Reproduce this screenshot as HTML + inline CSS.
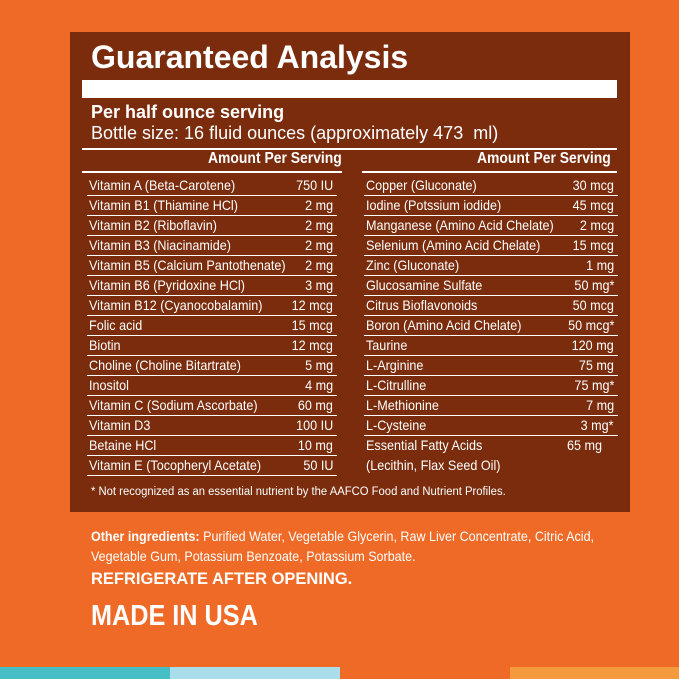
<!DOCTYPE html><html><head><style>
body{margin:0;width:679px;height:679px;background:#ee6a26;position:relative;overflow:hidden;font-family:"Liberation Sans",sans-serif;color:#fff}
.box{position:absolute;left:70px;top:32px;width:560px;height:480px;background:#7a2c0c}
.a{position:absolute;white-space:nowrap}
.row{position:absolute;height:20px;border-bottom:1.5px solid #fff;font-size:14px;line-height:20px}
.row span{position:absolute;right:4px;top:0;transform:scaleX(0.9);transform-origin:right}
.row b{font-weight:normal;position:absolute;left:2px;top:0;transform:scaleX(0.9);transform-origin:left}
.st{position:absolute;bottom:0;height:12px;width:170px}
</style></head><body>
<div class="box"></div>
<div class="a" style="left:91px;top:39px;font-size:32px;font-weight:bold">Guaranteed Analysis</div>
<div class="a" style="left:82px;top:80px;width:535px;height:18px;background:#fff"></div>
<div class="a" style="left:91px;top:102px;font-size:18px;font-weight:bold">Per half ounce serving</div>
<div class="a" style="left:91px;top:123px;font-size:18px">Bottle size: 16 fluid ounces (approximately 473&nbsp; ml)</div>
<div class="a" style="left:82px;top:148px;width:535px;height:1.5px;background:#fff"></div>
<div class="a" style="left:82px;top:171px;width:260px;height:1.5px;background:#fff"></div>
<div class="a" style="left:362px;top:171px;width:255px;height:1.5px;background:#fff"></div>
<div class="a" style="left:208px;top:150px;font-size:16px;font-weight:bold;transform:scaleX(0.87);transform-origin:left">Amount Per Serving</div>
<div class="a" style="left:477px;top:150px;font-size:16px;font-weight:bold;transform:scaleX(0.87);transform-origin:left">Amount Per Serving</div>
<div id="L"></div>
<div class="a" style="left:91px;top:486px;font-size:11.5px;transform:scaleX(0.98);transform-origin:left">* Not recognized as an essential nutrient by the AAFCO Food and Nutrient Profiles.</div>
<div class="a" style="left:91px;top:526px;font-size:14px;line-height:20px;transform:scaleX(0.895);transform-origin:left"><b>Other ingredients:</b> Purified Water, Vegetable Glycerin, Raw Liver Concentrate, Citric Acid,<br>Vegetable Gum, Potassium Benzoate, Potassium Sorbate.</div>
<div class="a" style="left:91px;top:570px;font-size:16.5px;font-weight:bold">REFRIGERATE AFTER OPENING.</div>
<div class="a" style="left:91px;top:600px;font-size:29px;font-weight:bold;transform:scaleX(0.87);transform-origin:left">MADE IN USA</div>
<div class="st" style="left:0;background:#45bec5"></div>
<div class="st" style="left:170px;background:#a8dde9"></div>
<div class="st" style="left:510px;background:#f49a3c"></div>
<script>
var l=[["Vitamin A (Beta-Carotene)","750 IU"],["Vitamin B1 (Thiamine HCl)","2 mg"],["Vitamin B2 (Riboflavin)","2 mg"],["Vitamin B3 (Niacinamide)","2 mg"],["Vitamin B5 (Calcium Pantothenate)","2 mg"],["Vitamin B6 (Pyridoxine HCl)","3 mg"],["Vitamin B12 (Cyanocobalamin)","12 mcg"],["Folic acid","15 mcg"],["Biotin","12 mcg"],["Choline (Choline Bitartrate)","5 mg"],["Inositol","4 mg"],["Vitamin C (Sodium Ascorbate)","60 mg"],["Vitamin D3","100 IU"],["Betaine HCl","10 mg"],["Vitamin E (Tocopheryl Acetate)","50 IU"]];
var r=[["Copper (Gluconate)","30 mcg"],["Iodine (Potssium iodide)","45 mcg"],["Manganese (Amino Acid Chelate)","2 mcg"],["Selenium (Amino Acid Chelate)","15 mcg"],["Zinc (Gluconate)","1 mg"],["Glucosamine Sulfate","50 mg*"],["Citrus Bioflavonoids","50 mcg"],["Boron (Amino Acid Chelate)","50 mcg*"],["Taurine","120 mg"],["L-Arginine","75 mg"],["L-Citrulline","75 mg*"],["L-Methionine","7 mg"],["L-Cysteine","3 mg*"]];
var h="";
l.forEach(function(x,i){h+='<div class="row" style="left:87px;width:250px;top:'+(175+i*20)+'px"><b>'+x[0]+'</b><span>'+x[1]+'</span></div>'});
r.forEach(function(x,i){h+='<div class="row" style="left:364px;width:254px;top:'+(175+i*20)+'px"><b>'+x[0]+'</b><span>'+x[1]+'</span></div>'});
h+='<div class="a" style="left:366px;top:435px;font-size:14px;line-height:20px;transform:scaleX(0.9);transform-origin:left">Essential Fatty Acids<br>(Lecithin, Flax Seed Oil)</div><div class="a" style="left:567px;top:435px;font-size:14px;line-height:20px;transform:scaleX(0.9);transform-origin:left">65 mg</div>';
document.getElementById("L").innerHTML=h;
</script>
</body></html>
